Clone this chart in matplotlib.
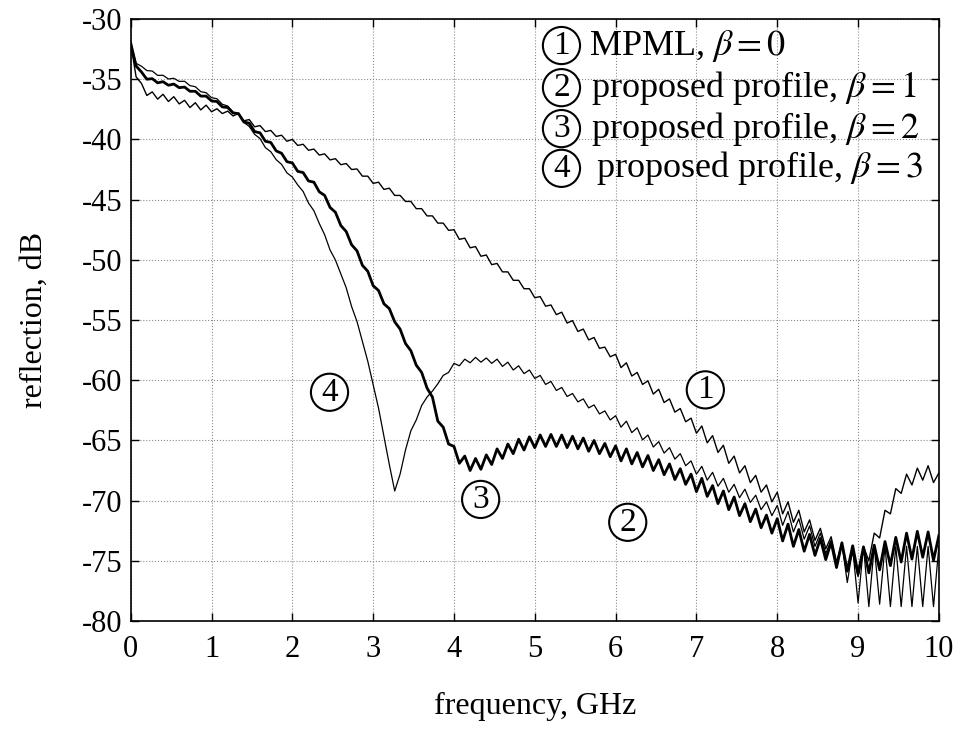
import numpy as np
import matplotlib.pyplot as plt

# frequency grid, GHz (half ripple period steps)
freq = np.arange(151) / 15.0

# curve 1: MPML, beta = 0
mpml_b0 = [
    -32.0, -34.8, -35.35, -36.35, -36.05, -36.65, -36.25, -36.85, -36.45, -37.05,
    -36.75, -37.35, -36.95, -37.55, -37.15, -37.7, -37.45, -37.85, -37.65, -38.05,
    -37.85, -38.45, -38.35, -38.95, -38.85, -39.35, -39.25, -39.75, -39.65, -40.15,
    -40.0, -40.5, -40.4, -40.9, -40.8, -41.3, -41.2, -41.7, -41.6, -42.1,
    -42.0, -42.5, -42.45, -43.05, -43.05, -43.65, -43.55, -44.15, -44.05, -44.65,
    -44.65, -45.15, -45.15, -45.75, -45.75, -46.35, -46.35, -46.95, -46.95, -47.55,
    -47.5, -48.3, -48.2, -49.0, -48.9, -49.7, -49.6, -50.4, -50.3, -51.0,
    -51.0, -51.7, -51.7, -52.4, -52.4, -53.15, -53.05, -53.85, -53.75, -54.55,
    -54.35, -55.25, -55.05, -55.95, -55.75, -56.65, -56.45, -57.35, -57.25, -58.05,
    -57.85, -58.95, -58.55, -59.65, -59.35, -60.35, -60.05, -61.15, -60.75, -61.85,
    -61.55, -62.65, -62.35, -63.45, -63.15, -64.4, -63.8, -65.2, -64.6, -66.0,
    -65.4, -66.9, -66.3, -67.7, -67.1, -68.5, -67.9, -69.3, -68.7, -70.1,
    -69.3, -71.1, -70.1, -71.8, -70.8, -72.6, -71.6, -73.3, -72.3, -74.0,
    -73.0, -75.1, -73.5, -75.9, -74.3, -76.3, -73.8, -75.0, -72.7, -73.1,
    -70.8, -71.1, -69.0, -69.4, -67.8, -68.7, -67.3, -68.3, -67.1, -68.5,
    -67.7,
]

# curve 3: proposed profile, beta = 2 (thick line)
prop_b2 = [
    -32.0, -33.9, -34.4, -35.0, -34.95, -35.3, -35.2, -35.5, -35.4, -35.7,
    -35.65, -36.0, -36.0, -36.4, -36.4, -36.8, -36.85, -37.3, -37.35, -37.8,
    -37.85, -38.55, -38.65, -39.35, -39.45, -40.15, -40.25, -40.95, -41.15, -41.85,
    -41.95, -42.65, -42.75, -43.45, -43.55, -44.35, -44.65, -45.65, -46.05, -47.15,
    -47.65, -48.75, -49.25, -50.45, -50.95, -52.15, -52.55, -53.65, -54.05, -55.15,
    -55.75, -56.95, -57.55, -58.75, -59.35, -60.65, -61.4, -63.4, -63.9, -65.3,
    -65.5, -66.9, -66.3, -67.5, -66.5, -67.4, -66.2, -67.0, -65.7, -66.5,
    -65.3, -66.1, -64.9, -65.8, -64.7, -65.6, -64.55, -65.5, -64.5, -65.5,
    -64.55, -65.6, -64.65, -65.7, -64.8, -65.9, -65.0, -66.1, -65.25, -66.35,
    -65.45, -66.7, -65.7, -66.95, -66.0, -67.2, -66.25, -67.5, -66.6, -67.85,
    -66.95, -68.25, -67.35, -68.65, -67.8, -69.25, -68.15, -69.65, -68.75, -70.25,
    -69.2, -70.75, -69.7, -71.25, -70.25, -71.75, -70.7, -72.25, -71.2, -72.7,
    -71.5, -73.35, -71.95, -73.8, -72.4, -74.2, -72.8, -74.55, -73.15, -74.9,
    -73.45, -75.55, -73.5, -75.85, -73.75, -76.1, -73.85, -76.0, -73.7, -75.75,
    -73.4, -75.4, -73.05, -75.1, -72.7, -74.85, -72.55, -74.7, -72.6, -74.95,
    -72.9,
]

# curve 4: proposed profile, beta = 3
prop_b3 = [
    -32.0, -33.68, -33.92, -34.28, -34.32, -34.68, -34.67, -34.98, -34.92, -35.18,
    -35.17, -35.53, -35.62, -36.03, -36.12, -36.53, -36.62, -37.08, -37.22, -37.73,
    -37.92, -38.58, -38.92, -39.58, -39.92, -40.68, -41.02, -41.68, -42.07, -42.78,
    -43.12, -43.78, -44.32, -45.28, -45.92, -46.98, -47.92, -49.18, -50.02, -51.18,
    -52.32, -53.88, -55.12, -56.78, -58.42, -60.38, -62.32, -64.68, -67.0, -69.2,
    -67.8, -65.8, -64.2, -63.3, -62.1, -61.4, -60.9, -60.3, -59.6, -59.35,
    -58.6, -58.8, -58.25, -58.55, -58.1, -58.5, -58.15, -58.6, -58.25, -58.85,
    -58.5, -59.15, -58.8, -59.45, -59.15, -59.85, -59.6, -60.35, -60.1, -60.85,
    -60.6, -61.35, -61.1, -61.8, -61.55, -62.3, -62.05, -62.8, -62.55, -63.3,
    -62.95, -63.9, -63.4, -64.35, -63.95, -64.95, -64.55, -65.55, -65.1, -66.05,
    -65.6, -66.55, -66.1, -67.1, -66.7, -67.8, -67.15, -68.3, -67.65, -68.8,
    -68.15, -69.3, -68.65, -69.75, -69.05, -70.15, -69.55, -70.75, -70.1, -71.25,
    -70.4, -72.05, -70.9, -72.6, -71.5, -73.2, -72.1, -73.8, -72.7, -74.4,
    -73.3, -75.6, -73.6, -76.8, -74.0, -78.5, -73.8, -78.8, -73.8, -78.6,
    -73.8, -78.8, -73.8, -78.8, -73.8, -78.8, -73.8, -78.8, -73.8, -78.8,
    -73.8,
]

legend_labels = [r"MPML, $\beta=0$",
                 r"proposed profile, $\beta=1$",
                 r"proposed profile, $\beta=2$",
                 r"proposed profile, $\beta=3$"]

plt.rcParams['font.family'] = 'Liberation Serif'
plt.rcParams['mathtext.fontset'] = 'stix'
plt.rcParams['axes.unicode_minus'] = False


def circled(ax, x, y, s, size=24):
    ax.text(x, y, s, fontsize=size, ha='center', va='center',
            bbox=dict(boxstyle='circle,pad=0.1', fc='white', ec='black', lw=1.5))


fig = plt.figure(figsize=(9.61, 7.38), dpi=100)
ax = fig.add_axes([0.136, 0.1585, 0.841, 0.8157])

ax.plot(freq, mpml_b0, color='black', lw=1.0)
ax.plot(freq, prop_b2, color='black', lw=2.0)
ax.plot(freq, prop_b3, color='black', lw=0.9)

ax.set_xlim(0, 10)
ax.set_ylim(-80, -30)
ax.set_xticks(range(0, 11))
ax.set_yticks(range(-80, -29, 5))
ax.tick_params(direction='in', top=True, right=True, length=6, width=1,
               labelsize=22)
ax.tick_params(axis='x', pad=10)
ax.tick_params(axis='y', pad=6)
ax.grid(True, linestyle=':', color='0.55', lw=0.8)
for sp in ax.spines.values():
    sp.set_linewidth(1.2)

ax.set_xlabel('frequency, GHz', fontsize=23, labelpad=20)
ax.set_ylabel('reflection, dB', fontsize=23, labelpad=24)

# legend block
leg_y = [-32.2, -35.7, -39.1, -42.4]
leg_tx = [5.67, 5.7, 5.7, 5.76]
for i, lab in enumerate(legend_labels):
    circled(ax, 5.33, leg_y[i], str(i + 1))
    ax.text(leg_tx[i], leg_y[i], lab, fontsize=26, ha='left', va='center')

# curve labels
circled(ax, 7.11, -60.8, '1')
circled(ax, 6.15, -71.8, '2')
circled(ax, 4.33, -69.9, '3')
circled(ax, 2.46, -61.0, '4')

fig.savefig('out.png', dpi=100)
